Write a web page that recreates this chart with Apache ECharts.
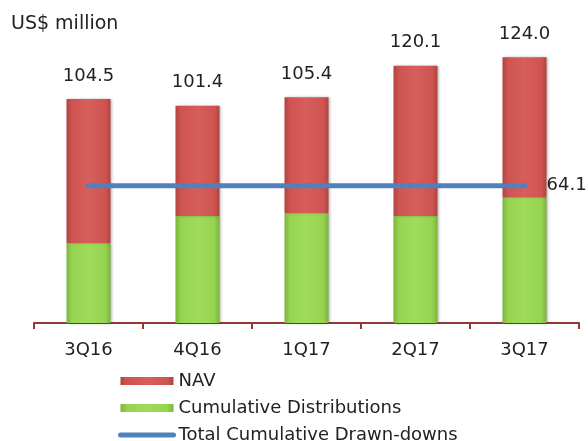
<!DOCTYPE html>
<html>
<head>
<meta charset="utf-8">
<script src="https://cdn.jsdelivr.net/npm/echarts@6/dist/echarts.min.js"></script>
<style>
  html, body { margin: 0; padding: 0; background: #fff; }
  #chart { width: 588px; height: 441px; }
</style>
</head>
<body>
<div id="chart"></div>
<script>
// Quarterly fund figures, US$ million
const quarters = ['3Q16', '4Q16', '1Q17', '2Q17', '3Q17'];
const totalValue = [104.5, 101.4, 105.4, 120.1, 124.0];        // NAV + cumulative distributions
const cumulativeDistributions = [37.2, 49.9, 51.2, 49.9, 58.6];
const totalDrawdowns = [64.1, 64.1, 64.1, 64.1, 64.1];

// NAV is the part of each stacked bar above the distributions
const nav = totalValue.map((t, i) => +(t - cumulativeDistributions[i]).toFixed(1));

const FONT = 'DejaVu Sans';

function bevel(edge, mid, light) {
  return {
    type: 'linear', x: 0, y: 0, x2: 1, y2: 0,
    colorStops: [
      { offset: 0, color: edge },
      { offset: 0.12, color: mid },
      { offset: 0.5, color: light },
      { offset: 0.88, color: mid },
      { offset: 1, color: edge }
    ]
  };
}

const chart = echarts.init(document.getElementById('chart'), null, { renderer: 'canvas' });

chart.setOption({
  animation: false,
  backgroundColor: '#ffffff',
  title: {
    text: 'US$ million',
    left: 6,
    top: 10,
    textStyle: { fontFamily: FONT, fontSize: 19, fontWeight: 'normal', color: '#222' }
  },
  grid: { left: 34, right: 9, top: 23, bottom: 118, containLabel: false },
  legend: {
    orient: 'vertical',
    left: 118,
    top: 370,
    height: 90,
    padding: 0,
    itemWidth: 53,
    itemHeight: 8,
    itemGap: 5,
    textStyle: { fontFamily: FONT, fontSize: 18, color: '#222', lineHeight: 22 },
    data: [
      { name: 'NAV', icon: 'rect' },
      { name: 'Cumulative Distributions', icon: 'rect' },
      {
        name: 'Total Cumulative Drawn-downs',
        itemStyle: { opacity: 0 },
        lineStyle: { width: 5, cap: 'round', color: '#4f81bd' }
      }
    ]
  },
  xAxis: {
    type: 'category',
    data: quarters,
    boundaryGap: true,
    axisLine: { show: true, lineStyle: { color: '#953735', width: 2 } },
    axisTick: { show: true, alignWithLabel: false, length: 6, lineStyle: { color: '#953735', width: 2 } },
    axisLabel: { fontFamily: FONT, fontSize: 18, color: '#222', margin: 18 }
  },
  yAxis: {
    type: 'value',
    min: 0,
    max: 140,
    show: false,
    splitLine: { show: false }
  },
  series: [
    {
      name: 'Cumulative Distributions',
      type: 'bar',
      stack: 'value',
      barWidth: 44,
      data: cumulativeDistributions,
      itemStyle: {
        color: bevel('#7bb53c', '#95d350', '#a0dc5a'),
        shadowColor: 'rgba(0,0,0,0.35)',
        shadowBlur: 3,
        shadowOffsetX: 1
      }
    },
    {
      name: 'NAV',
      type: 'bar',
      stack: 'value',
      barWidth: 44,
      data: nav,
      itemStyle: {
        color: bevel('#b04440', '#cf5451', '#d65e5b'),
        shadowColor: 'rgba(0,0,0,0.35)',
        shadowBlur: 3,
        shadowOffsetX: 1
      },
      label: {
        show: true,
        position: 'top',
        distance: 14,
        fontFamily: FONT,
        fontSize: 18,
        color: '#222',
        formatter: p => totalValue[p.dataIndex].toFixed(1)
      }
    },
    {
      name: 'Total Cumulative Drawn-downs',
      type: 'line',
      data: totalDrawdowns,
      symbol: 'none',
      z: 5,
      lineStyle: { color: '#4f81bd', width: 5, cap: 'round' },
      itemStyle: { color: '#4f81bd' },
      endLabel: {
        show: true,
        distance: 22,
        fontFamily: FONT,
        fontSize: 18,
        color: '#222',
        formatter: p => p.value.toFixed(1)
      }
    }
  ]
});
</script>
</body>
</html>
